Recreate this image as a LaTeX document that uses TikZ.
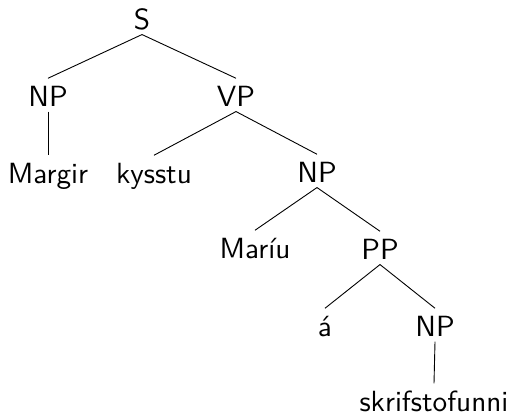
\documentclass[tikz,border=0pt]{standalone}
\begin{document}
\begin{tikzpicture}[x=1pt,y=-1pt,
  lab/.style={font=\sffamily, scale=2.92, inner sep=0pt, text height=9.3pt, text depth=1.7pt, anchor=base},
  edge/.style={draw=black, line width=0.9pt}]
\useasboundingbox (0,0) rectangle (510,415);
\node[lab] (S) at (142,29) {S};
\node[lab] (np1) at (48,106) {NP};
\node[lab] (vp) at (236,106) {VP};
\node[lab] (margir) at (48,183) {Margir};
\node[lab] (kysstu) at (154,183) {kysstu};
\node[lab] (np2) at (317,182) {NP};
\node[lab] (mariu) at (255,258) {Maríu};
\node[lab] (pp) at (380,259) {PP};
\node[lab] (a) at (325,336) {á};
\node[lab] (np3) at (435,336) {NP};
\node[lab] (skrif) at (434,411) {skrifstofunni};
\draw[edge] (S.south) -- (np1.north);
\draw[edge] (S.south) -- (vp.north);
\draw[edge] (np1.south) -- (margir.north);
\draw[edge] (vp.south) -- (kysstu.north);
\draw[edge] (vp.south) -- (np2.north);
\draw[edge] (np2.south) -- (mariu.north);
\draw[edge] (np2.south) -- (pp.north);
\draw[edge] (pp.south) -- (a.north);
\draw[edge] (pp.south) -- (np3.north);
\draw[edge] (np3.south) -- (skrif.north);
\end{tikzpicture}
\end{document}
